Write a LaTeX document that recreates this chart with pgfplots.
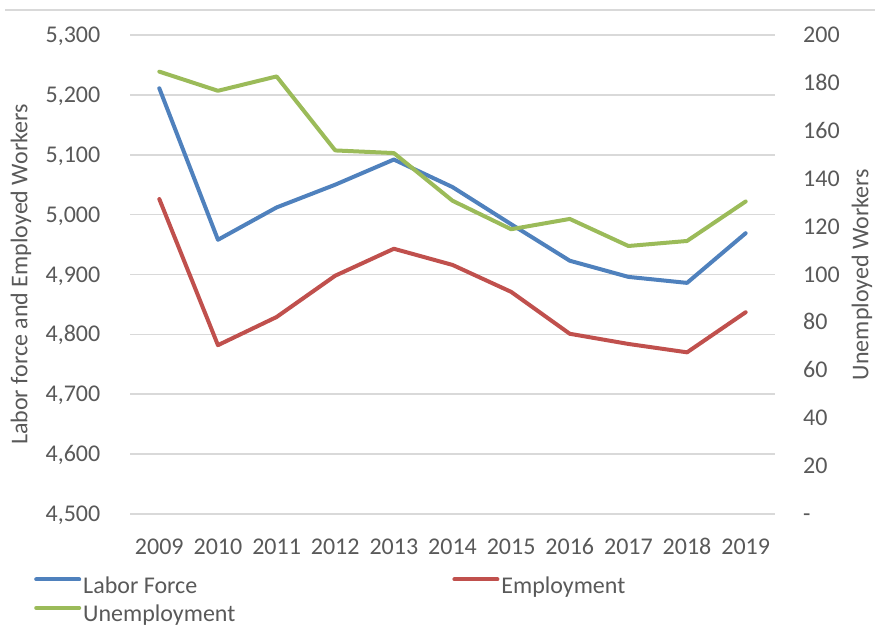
\documentclass[border=0pt]{standalone}
\usepackage{fontspec}
\setmainfont{Carlito}
\usepackage{pgfplots}
\usepackage{pgfplotstable}
\pgfplotsset{compat=1.18}

\definecolor{lfblue}{HTML}{4F81BD}
\definecolor{empred}{HTML}{C0504D}
\definecolor{unegreen}{HTML}{9BBB59}
\definecolor{txtgray}{HTML}{595959}
\definecolor{gridgray}{HTML}{D9D9D9}

% x = 0..10 stands for 2009..2019
\pgfplotstableread{
year lf   emp  une
0    5211 5026 184.7
1    4958 4782 176.7
2    5012 4829 182.7
3    5050 4898 151.8
4    5092 4943 150.7
5    5046 4916 130.8
6    4984 4871 118.9
7    4923 4801 123.2
8    4896 4784 111.9
9    4886 4770 114.0
10   4969 4837 130.5
}\labordata

\pgfplotsset{
  base/.style={
    scale only axis, width=645bp, height=479bp,
    at={(130bp,115bp)}, anchor=south west,
    xmin=-0.5, xmax=10.5,
    axis line style={draw=none}, tick style={draw=none},
    font=\fontsize{24bp}{28bp}\selectfont,
    every tick label/.append style={text=txtgray},
    label style={text=txtgray},
    /pgf/number format/assume math mode=true,
  },
  series/.style={line width=4bp, line join=round, line cap=round},
}

\begin{document}
\begin{tikzpicture}
\draw[gridgray, line width=1.5bp] (5bp,619bp) -- (875bp,619bp);

\begin{axis}[base,
  ymin=4500, ymax=5300,
  ytick={4500,4600,...,5300},
  ymajorgrids, grid style={gridgray, line width=1.6bp},
  xtick={0,...,10},
  xticklabels={2009,2010,2011,2012,2013,2014,2015,2016,2017,2018,2019},
  xticklabel style={anchor=base, inner sep=0pt, yshift=-40bp},
  yticklabel style={anchor=base east, inner sep=0pt, xshift=-29.5bp, yshift=-7.6bp,
    /pgf/number format/1000 sep={,}},
  ylabel={Labor force and Employed Workers},
  ylabel style={at={(axis description cs:-0.169,0.5)}, anchor=center},
]
\addplot[series, lfblue] table[x=year, y=lf] {\labordata};
\addplot[series, empred] table[x=year, y=emp] {\labordata};
\end{axis}

\begin{axis}[base,
  axis x line=none, axis y line*=right,
  ymin=0, ymax=200,
  ytick={0,20,...,200},
  yticklabels={-,20,40,60,80,100,120,140,160,180,200},
  yticklabel style={anchor=base west, inner sep=0pt, xshift=28bp, yshift=-7.6bp},
  ylabel={Unemployed Workers},
  ylabel style={at={(axis description cs:1.1348,0.5)}, anchor=center},
  legend columns=2,
  legend cell align=left,
  legend image code/.code={\draw[#1] (0bp,7.7bp) -- (43bp,7.7bp);},
  legend style={at={(axis description cs:-0.1488,-0.1294)}, anchor=north west,
    draw=none, fill=none, inner sep=0pt, row sep=6.5bp,
    nodes={inner sep=0pt, text height=17bp, text depth=5bp, text=txtgray},
    /tikz/every odd column/.append style={column sep=2bp},
    /tikz/every even column/.append style={column sep=217bp}},
]
\addlegendimage{series, lfblue}
\addlegendentry{Labor Force}
\addlegendimage{series, empred}
\addlegendentry{Employment}
\addplot[series, unegreen] table[x=year, y=une] {\labordata};
\addlegendentry{Unemployment}
\end{axis}

\pgfresetboundingbox
\useasboundingbox (0bp,0bp) rectangle (875bp,629bp);
\end{tikzpicture}
\end{document}
